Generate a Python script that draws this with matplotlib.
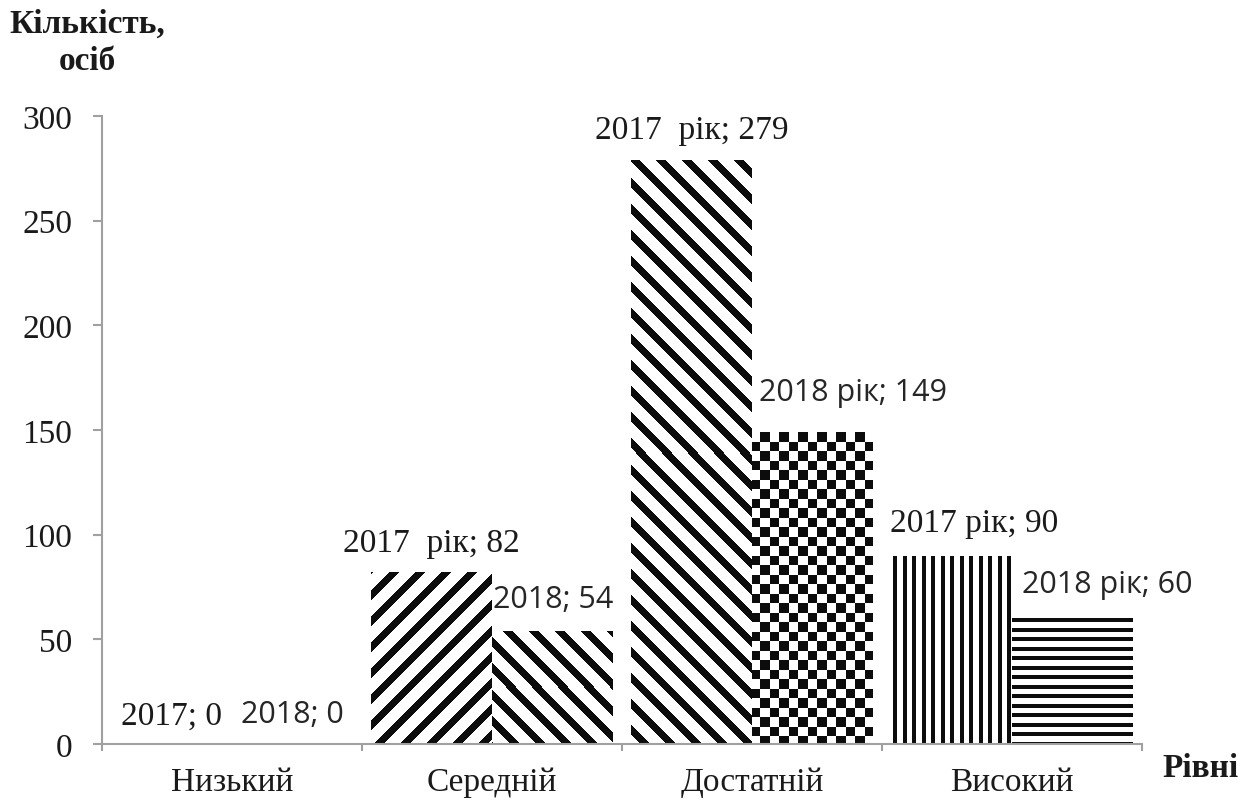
import numpy as np
import matplotlib
matplotlib.use('Agg')
import matplotlib.pyplot as plt
from matplotlib import font_manager as fm

# ---- data ----
categories = ['Низький', 'Середній', 'Достатній', 'Високий']
values_2017 = [0, 82, 279, 90]
values_2018 = [0, 54, 149, 60]
labels_2017 = ['2017; 0', '2017  рік; 82', '2017  рік; 279', '2017 рік; 90']
labels_2018 = ['2018; 0', '2018; 54', '2018 рік; 149', '2018 рік; 60']
yticks = [0, 50, 100, 150, 200, 250, 300]
y_title = ['Кількість,', 'осіб']
x_title = 'Рівні'

# ---- styles ----
patterns_2017 = ['diag_up', 'diag_up', 'diag_down', 'vert']
patterns_2018 = ['diag_down', 'diag_down', 'checker', 'horiz']
# label offsets in pixels (dx, dy above bar top, to baseline)
offs_2017 = [(0, 20), (0, 21), (0, 22), (23, 25)]
offs_2018 = [(0, 22), (1, 24), (41, 32), (35, 26)]


def fprop(families, size, weight='normal'):
    path = fm.findfont(fm.FontProperties(family=families, weight=weight))
    return fm.FontProperties(fname=path, size=size)


F_SERIF = fprop(['Liberation Serif', 'DejaVu Serif'], 24)
F_SERIF_B = fprop(['Liberation Serif', 'DejaVu Serif'], 24, 'bold')
F_SANS = fprop(['Open Sans', 'DejaVu Sans'], 22)

GRAY = '#a0a0a0'
TXT = '#1a1a1a'

W, H, DPI = 1251, 803, 100
fig = plt.figure(figsize=(W / DPI, H / DPI), dpi=DPI)
ax = fig.add_axes([102 / W, 1 - 745 / H, 1040 / W, 628 / H])
ax.set_xlim(-0.5, 3.5)
ax.set_ylim(0, 300)

x = np.arange(len(categories))
bw = 0.465
bars17 = ax.bar(x - bw / 2, values_2017, bw, color='none', linewidth=0)
bars18 = ax.bar(x + bw / 2, values_2018, bw, color='none', linewidth=0)


def pattern(kind, c0, r0, wpx, hpx):
    cols, rows = np.meshgrid(c0 + np.arange(wpx), r0 + np.arange(hpx))
    rl = rows - r0
    if kind == 'diag_up':
        black = ((cols + rows) % 26) < 10
    elif kind == 'diag_down':
        black = ((cols - rows) % 26) < 10
    elif kind == 'vert':
        black = (cols % 9.5) < 4
    elif kind == 'horiz':
        black = (rl % 9.5) < 4
    else:
        black = ((np.floor(cols / 9.5) + np.floor(rl / 9.5)) % 2) == 0
    return np.where(black, 0.05, 1.0)


def fill_bar(bar, kind):
    h = bar.get_height()
    if h <= 0:
        return
    x0, x1 = bar.get_x(), bar.get_x() + bar.get_width()
    (px0, py0) = ax.transData.transform((x0, 0))
    (px1, py1) = ax.transData.transform((x1, h))
    wpx = int(round(px1 - px0))
    hpx = int(round(py1 - py0))
    c0 = int(round(px0))
    r0 = int(round(H - py1))
    img = pattern(kind, c0, r0, wpx, hpx)
    im = ax.imshow(img, cmap='gray', vmin=0, vmax=1, extent=(x0, x1, 0, h),
                   aspect='auto', interpolation='nearest', origin='upper',
                   zorder=2)
    im.set_clip_path(bar)


for b, k in zip(bars17, patterns_2017):
    fill_bar(b, k)
for b, k in zip(bars18, patterns_2018):
    fill_bar(b, k)
ax.set_xlim(-0.5, 3.5)
ax.set_ylim(0, 300)

px2pt = 72 / DPI
for b, lab, (dx, dy) in zip(bars17, labels_2017, offs_2017):
    ax.annotate(lab, xy=(b.get_x() + b.get_width() / 2, b.get_height()),
                xytext=(dx * px2pt, dy * px2pt), textcoords='offset points',
                ha='center', va='baseline', fontproperties=F_SERIF,
                color=TXT, annotation_clip=False)
for b, lab, (dx, dy) in zip(bars18, labels_2018, offs_2018):
    ax.annotate(lab, xy=(b.get_x() + b.get_width() / 2, b.get_height()),
                xytext=(dx * px2pt, dy * px2pt), textcoords='offset points',
                ha='center', va='baseline', fontproperties=F_SANS,
                color='#262626', annotation_clip=False)

# axes styling
for s in ['top', 'right']:
    ax.spines[s].set_visible(False)
for s in ['left', 'bottom']:
    ax.spines[s].set_color(GRAY)
    ax.spines[s].set_linewidth(1.5)

ax.set_yticks(yticks)
ax.set_yticklabels([str(v) for v in yticks])
ax.tick_params(axis='y', length=6.5, width=1.5, color=GRAY, pad=15)

ax.set_xticks(x)
ax.set_xticklabels(categories)
ax.tick_params(axis='x', which='major', length=0, pad=16)
ax.set_xticks(np.arange(len(categories) + 1) - 0.5, minor=True)
ax.tick_params(axis='x', which='minor', length=5, width=1.5, color=GRAY)

for t in ax.get_xticklabels() + ax.get_yticklabels():
    t.set_fontproperties(F_SERIF)
    t.set_color(TXT)

# titles
fig.text(87 / W, 1 - 33 / H, y_title[0], ha='center', va='baseline',
         fontproperties=F_SERIF_B, color=TXT)
fig.text(87 / W, 1 - 70 / H, y_title[1], ha='center', va='baseline',
         fontproperties=F_SERIF_B, color=TXT)
fig.text(1162 / W, 1 - 777 / H, x_title, ha='left', va='baseline',
         fontproperties=F_SERIF_B, color=TXT)

fig.savefig('out.png', dpi=DPI, facecolor='white')
